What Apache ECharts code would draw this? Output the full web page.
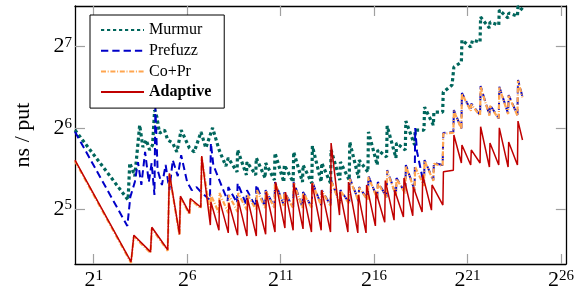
<!DOCTYPE html>
<html><head><meta charset="utf-8">
<script src="https://cdn.jsdelivr.net/npm/echarts@6/dist/echarts.min.js"></script>
<style>html,body{margin:0;padding:0;background:#fff}#c{width:577px;height:297px}</style>
</head><body><div id="c"></div>
<script>
// x: log2 of number of items, y: ns per put
const xTickExps = [1, 6, 11, 16, 21, 26];
const yTickExps = [5, 6, 7];
const seriesNames = ['Murmur', 'Prefuzz', 'Co+Pr', 'Adaptive'];

const murmur = [[0,62.8],[2.84,34.6],[2.93,47.4],[3.2,42.4],[3.37,56.2],[3.46,65.5],[3.63,54.3],[3.81,57.7],[3.99,53.0],[4.15,55.3],[4.26,74.5],[4.38,70.2],[4.52,61.2],[4.79,62.8],[4.96,57.7],[5.23,56.2],[5.45,52.1],[5.68,62.8],[6.12,53.9],[6.38,52.1],[6.74,61.8],[7.0,53.9],[7.36,64.0],[7.71,53.0],[8.07,46.2],[8.2,49.5],[8.67,43.9],[8.7,53.0],[9.17,42.8],[9.2,47.8],[9.67,42.8],[9.7,49.5],[10.17,41.7],[10.2,47.4],[10.67,41.0],[10.7,51.6],[11.17,40.3],[11.2,46.6],[11.67,40.3],[11.7,52.1],[12.17,40.3],[12.2,46.6],[12.67,39.9],[12.7,54.8],[13.17,40.3],[13.2,47.4],[13.67,39.9],[13.7,53.0],[14.17,41.0],[14.2,47.8],[14.67,41.0],[14.7,56.7],[15.17,41.7],[15.2,48.6],[15.67,43.9],[15.7,61.8],[16.17,46.6],[16.2,53.0],[16.67,49.9],[16.7,65.0],[17.17,49.5],[17.2,56.2],[17.67,53.0],[17.7,67.8],[18.17,55.3],[18.2,62.8],[18.67,62.8],[18.7,76.4],[19.17,65.5],[19.2,73.2],[19.67,73.2],[19.7,86.9],[20.17,92.2],[20.27,107.5],[20.67,112.2],[20.7,135.4],[21.17,127.6],[21.27,135.4],[21.67,133.1],[21.7,164.8],[22.17,150.1],[22.2,157.9],[22.67,153.9],[22.7,175],[23.17,163.4],[23.2,170.5],[23.67,166.2],[23.7,181],[23.95,175]];

const prefuzz = [[0,61.9],[2.8,27.7],[2.96,35.5],[3.2,40.3],[3.37,47.8],[3.55,39.3],[3.75,52.1],[3.95,40.3],[4.1,47.4],[4.25,36.1],[4.3,76.4],[4.42,44.6],[4.65,39.3],[4.85,46.6],[5.05,37.6],[5.23,48.6],[5.5,42.4],[5.68,50.7],[6.0,40.3],[6.25,37.6],[6.5,38.6],[6.74,37.0],[7.22,34.6],[7.27,56.2],[7.4,46.6],[7.87,38.6],[8.17,34.3],[8.2,38.6],[8.67,33.7],[8.7,39.9],[9.17,33.1],[9.2,37.6],[9.67,32.5],[9.7,39.3],[10.17,32.5],[10.2,37.6],[10.67,32.5],[10.7,40.3],[11.17,33.1],[11.2,37.0],[11.67,32.5],[11.7,40.3],[12.17,32.5],[12.2,37.0],[12.67,32.5],[12.7,40.3],[13.17,33.1],[13.2,37.6],[13.67,33.1],[13.7,41.0],[14.17,33.7],[14.2,37.6],[14.67,33.7],[14.7,41.7],[15.17,34.3],[15.2,38.6],[15.67,34.6],[15.7,42.4],[16.17,35.1],[16.2,40.3],[16.67,35.5],[16.7,44.6],[17.17,36.1],[17.2,41.7],[17.67,36.7],[17.7,46.6],[18.17,37.6],[18.2,63.9],[18.3,52.1],[18.67,39.3],[18.7,48.6],[19.17,41.0],[19.2,47.4],[19.67,46.6],[19.7,61.2],[20.24,61.8],[20.27,74.5],[20.67,63.7],[20.7,86.2],[21.17,74.5],[21.2,78.7],[21.67,71.4],[21.7,91.4],[22.17,71.4],[22.2,77.8],[22.67,69.4],[22.7,90.9],[23.17,72.4],[23.2,84.7],[23.67,71.4],[23.7,96.3],[23.94,83.5]];

const copr = [[0,48.2],[3.0,20.2],[3.15,25.3],[4.04,22.0],[4.11,27.1],[4.96,22.4],[5.05,43.0],[5.59,25.6],[5.64,35.4],[6.12,30.6],[6.17,34.7],[6.73,32.2],[6.78,49.8],[7.24,30.4],[7.27,36.1],[7.7,30.9],[7.73,36.7],[8.2,30.9],[8.23,36.1],[8.7,31.2],[8.73,36.7],[9.2,31.7],[9.23,36.1],[9.7,31.7],[9.73,37.6],[10.17,32.3],[10.2,37.4],[10.67,32.3],[10.7,40.0],[11.17,32.9],[11.2,36.8],[11.67,32.3],[11.7,40.0],[12.17,32.3],[12.2,36.8],[12.67,32.3],[12.7,40.0],[13.17,32.9],[13.2,37.4],[13.67,32.9],[13.7,40.7],[14.17,33.5],[14.2,37.4],[14.67,33.5],[14.7,41.4],[15.17,34.1],[15.2,38.4],[15.67,34.4],[15.7,42.1],[16.17,34.9],[16.2,40.0],[16.67,35.3],[16.7,44.3],[17.17,35.9],[17.2,41.4],[17.67,36.5],[17.7,46.3],[18.17,37.4],[18.2,45.8],[18.67,39.0],[18.7,48.3],[19.17,40.7],[19.2,47.1],[19.67,46.3],[19.7,60.8],[20.24,61.4],[20.27,74.0],[20.67,63.3],[20.7,85.7],[21.17,74.0],[21.2,78.2],[21.67,71.0],[21.7,90.8],[22.17,71.0],[22.2,77.3],[22.67,69.0],[22.7,90.3],[23.17,72.0],[23.2,84.2],[23.67,71.0],[23.7,95.7],[23.94,83.0]];

const adaptive = [[0,48.6],[3.0,20.4],[3.15,25.6],[4.04,22.2],[4.11,27.4],[4.96,22.6],[5.05,43.4],[5.59,25.8],[5.64,35.7],[6.12,30.9],[6.17,35.0],[6.73,32.5],[6.78,50.3],[7.24,27.9],[7.27,34.0],[7.7,26.7],[7.73,34.6],[8.2,26.1],[8.23,33.7],[8.7,25.6],[8.73,34.6],[9.2,25.4],[9.23,35.1],[9.7,25.4],[9.73,34.6],[10.2,25.8],[10.23,37.0],[10.7,26.3],[10.73,40.3],[11.23,27.2],[11.26,37.0],[11.67,26.7],[11.7,39.9],[12.2,27.0],[12.23,36.1],[12.65,26.3],[12.68,39.9],[13.17,26.7],[13.2,37.6],[13.67,26.3],[13.7,56.2],[14.15,30.4],[14.18,37.0],[14.6,26.3],[14.63,40.3],[15.13,26.1],[15.16,36.1],[15.57,26.1],[15.6,39.3],[16.07,27.7],[16.1,37.0],[16.57,28.6],[16.6,40.8],[17.07,29.1],[17.1,37.6],[17.57,29.9],[17.6,41.7],[18.07,30.2],[18.1,38.6],[18.57,31.2],[18.6,42.8],[19.07,31.7],[19.1,39.3],[19.68,33.1],[19.71,44.0],[20.24,44.6],[20.27,60.2],[20.67,47.4],[20.7,55.3],[21.17,46.6],[21.2,53.0],[21.67,47.4],[21.7,64.6],[22.17,45.8],[22.2,56.2],[22.67,46.6],[22.7,64.0],[23.17,45.8],[23.2,56.7],[23.67,46.6],[23.7,67.8],[23.94,57.7]];

const FONT = 'Liberation Serif';
const toLog = d => d.map(p => [p[0], Math.log2(p[1])]);
const rich = {
  b: {fontSize: 22, fontFamily: FONT, color: '#000', lineHeight: 22, padding: [5, 0, 0, 0], verticalAlign: 'bottom'},
  s: {fontSize: 15, fontFamily: FONT, color: '#000', lineHeight: 15, verticalAlign: 'top'}
};
const fmt = v => '{b|2}{s|' + v + '}';
const tickStyle = {color: '#a0a0a0', width: 1.2};
const lineSt = {color: '#000', width: 1.3};

function xAx(pos, labels) {
  return {type: 'value', position: pos, min: 0, max: 26.26,
    axisLine: {show: true, onZero: false, lineStyle: lineSt},
    axisTick: {show: true, inside: true, length: 10, customValues: xTickExps, lineStyle: tickStyle},
    axisLabel: labels ? {show: true, customValues: xTickExps, formatter: fmt, rich: rich, margin: 5} : {show: false},
    splitLine: {show: false}};
}
function yAx(pos, labels) {
  return {type: 'value', position: pos, min: 4.323, max: 7.501,
    axisLine: {show: true, onZero: false, lineStyle: lineSt},
    axisTick: {show: true, inside: true, length: 10, customValues: yTickExps, lineStyle: tickStyle},
    axisLabel: labels ? {show: true, customValues: yTickExps, formatter: fmt, rich: rich, margin: 3} : {show: false},
    splitLine: {show: false},
    name: labels ? 'ns / put' : '', nameLocation: 'middle', nameGap: 41,
    nameTextStyle: {fontFamily: FONT, fontSize: 22, color: '#000'}};
}

const styles = {
  'Murmur': {color: '#00665c', width: 3.2, type: [3.2, 2.8]},
  'Prefuzz': {color: '#0000c8', width: 2, type: [7.3, 4]},
  'Co+Pr': {color: '#ffa54f', width: 2.2, type: [5, 1.7, 1, 1.7]},
  'Adaptive': {color: '#c00000', width: 1.5, type: 'solid'}
};
const dataByName = {'Murmur': murmur, 'Prefuzz': prefuzz, 'Co+Pr': copr, 'Adaptive': adaptive};

const chart = echarts.init(document.getElementById('c'), null, {renderer: 'canvas'});
chart.setOption({
  animation: false,
  backgroundColor: '#fff',
  grid: {left: 75, right: 8.3, top: 6, bottom: 33},
  xAxis: [xAx('bottom', true), xAx('top', false)],
  yAxis: [yAx('left', true), yAx('right', false)],
  legend: {
    data: seriesNames, orient: 'vertical', left: 90, top: 15,
    itemWidth: 43, itemHeight: 14, itemGap: 4.7,
    itemStyle: {opacity: 0},
    padding: [7, 13, 8, 10], borderColor: '#000', borderWidth: 1, backgroundColor: '#fff',
    formatter: n => n === 'Adaptive' ? '{bold|Adaptive}' : n,
    textStyle: {fontFamily: FONT, fontSize: 16, color: '#000', lineHeight: 16,
      rich: {bold: {fontFamily: FONT, fontSize: 16, fontWeight: 'bold', color: '#000', lineHeight: 16}}}
  },
  series: seriesNames.map(n => ({
    name: n, type: 'line', symbol: 'none', showSymbol: false,
    xAxisIndex: 0, yAxisIndex: 0, clip: true,
    data: toLog(dataByName[n]),
    lineStyle: {color: styles[n].color, width: styles[n].width, type: styles[n].type, cap: 'butt'},
    itemStyle: {color: styles[n].color}
  }))
});
</script></body></html>
